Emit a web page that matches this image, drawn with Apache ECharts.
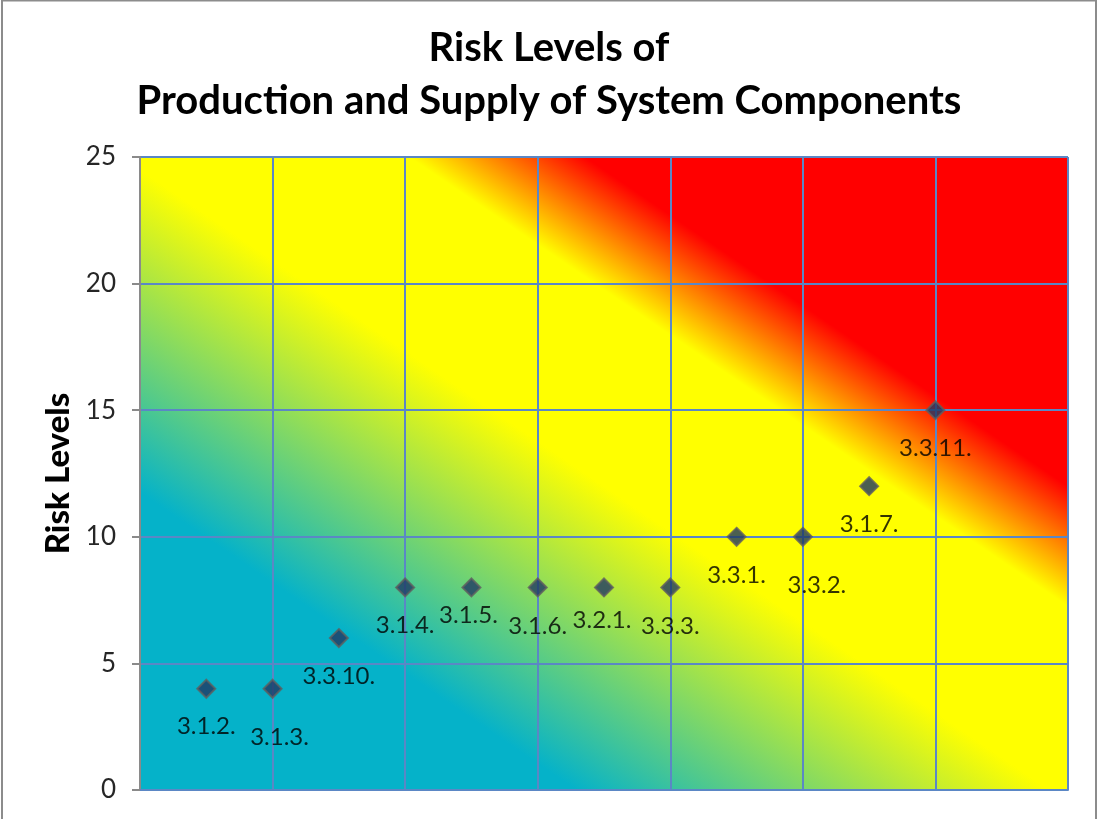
<!DOCTYPE html>
<html>
<head>
<meta charset="utf-8">
<script src="https://cdn.jsdelivr.net/npm/echarts@6/dist/echarts.min.js"></script>
<style>
html,body{margin:0;padding:0;background:#fff;}
#chart{width:1098px;height:819px;}
</style>
</head>
<body>
<div id="chart"></div>
<script>
// ---- data ----
const xPositions = [1, 2, 3, 4, 5, 6, 7, 8, 9, 10, 11, 12];
const riskValues = [4, 4, 6, 8, 8, 8, 8, 8, 10, 10, 12, 15];
const pointLabels = ['3.1.2.', '3.1.3.', '3.3.10.', '3.1.4.', '3.1.5.', '3.1.6.', '3.2.1.', '3.3.3.', '3.3.1.', '3.3.2.', '3.1.7.', '3.3.11.'];
const yTicks = [0, 5, 10, 15, 20, 25];
const titleLines = ['Risk Levels of', 'Production and Supply of System Components'];
const yAxisName = 'Risk Levels';

// ---- layout (label nudges in px, not data) ----
const labelNudges = [[0,0],[7,11],[0,0],[0,0],[-3,-10],[0,1],[-2,-5],[0,1],[0,0],[14,10],[0,0],[0,0]];

const FONT = 'Lato';
const seriesData = xPositions.map((x, i) => ({
  value: [x, riskValues[i]],
  name: pointLabels[i],
  label: { offset: labelNudges[i] }
}));

const bg = {
  type: 'linear',
  x: 0.1825, y: 1.1825, x2: 0.8175, y2: -0.1825,
  colorStops: [
    { offset: 0, color: '#05b2c9' },
    { offset: 0.235, color: '#05b2c9' },
    { offset: 0.49, color: '#ffff00' },
    { offset: 0.645, color: '#ffff00' },
    { offset: 0.74, color: '#ff0000' },
    { offset: 1, color: '#ff0000' }
  ]
};

const chart = echarts.init(document.getElementById('chart'), null, { renderer: 'canvas' });
chart.setOption({
  animation: false,
  backgroundColor: '#ffffff',
  title: {
    text: titleLines.join('\n'),
    left: 'center',
    top: 17,
    textStyle: { fontFamily: FONT, fontWeight: 'bold', fontSize: 40, lineHeight: 53, color: '#000' }
  },
  graphic: [{
    type: 'rect',
    shape: { x: 2, y: 0.5, width: 1094, height: 840 },
    style: { fill: 'none', stroke: '#8c8c8c', lineWidth: 2 },
    silent: true, z: -10
  }],
  grid: {
    left: 140, top: 157, width: 928, height: 633,
    show: true, backgroundColor: bg, borderWidth: 0
  },
  xAxis: {
    type: 'value', min: 0, max: 14, interval: 2,
    axisLine: { show: true, lineStyle: { color: '#5b87c5', width: 2 } },
    axisTick: { show: false },
    axisLabel: { show: false },
    splitLine: { show: true, lineStyle: { color: '#5b87c5', width: 2 } }
  },
  yAxis: {
    type: 'value', min: yTicks[0], max: yTicks[yTicks.length - 1], interval: 5,
    name: yAxisName, nameLocation: 'middle', nameGap: 62,
    nameTextStyle: { fontFamily: FONT, fontWeight: 900, fontSize: 33, color: '#000' },
    axisLine: { show: true, lineStyle: { color: '#8a8a8a', width: 2 } },
    axisTick: { show: true, inside: false, length: 8, lineStyle: { color: '#8a8a8a', width: 2 } },
    axisLabel: { fontFamily: FONT, fontSize: 26, color: '#262626', margin: 24 },
    splitLine: { show: true, lineStyle: { color: '#5b87c5', width: 2 } }
  },
  series: [{
    type: 'scatter',
    data: seriesData,
    symbol: 'diamond',
    symbolSize: 18,
    itemStyle: { color: '#1f3864', borderColor: '#5f5f5f', borderWidth: 2 },
    label: {
      show: true, position: 'bottom', distance: 16,
      formatter: p => p.name,
      fontFamily: FONT, fontSize: 24, color: '#000'
    },
    z: 5
  }]
});
</script>
</body>
</html>
